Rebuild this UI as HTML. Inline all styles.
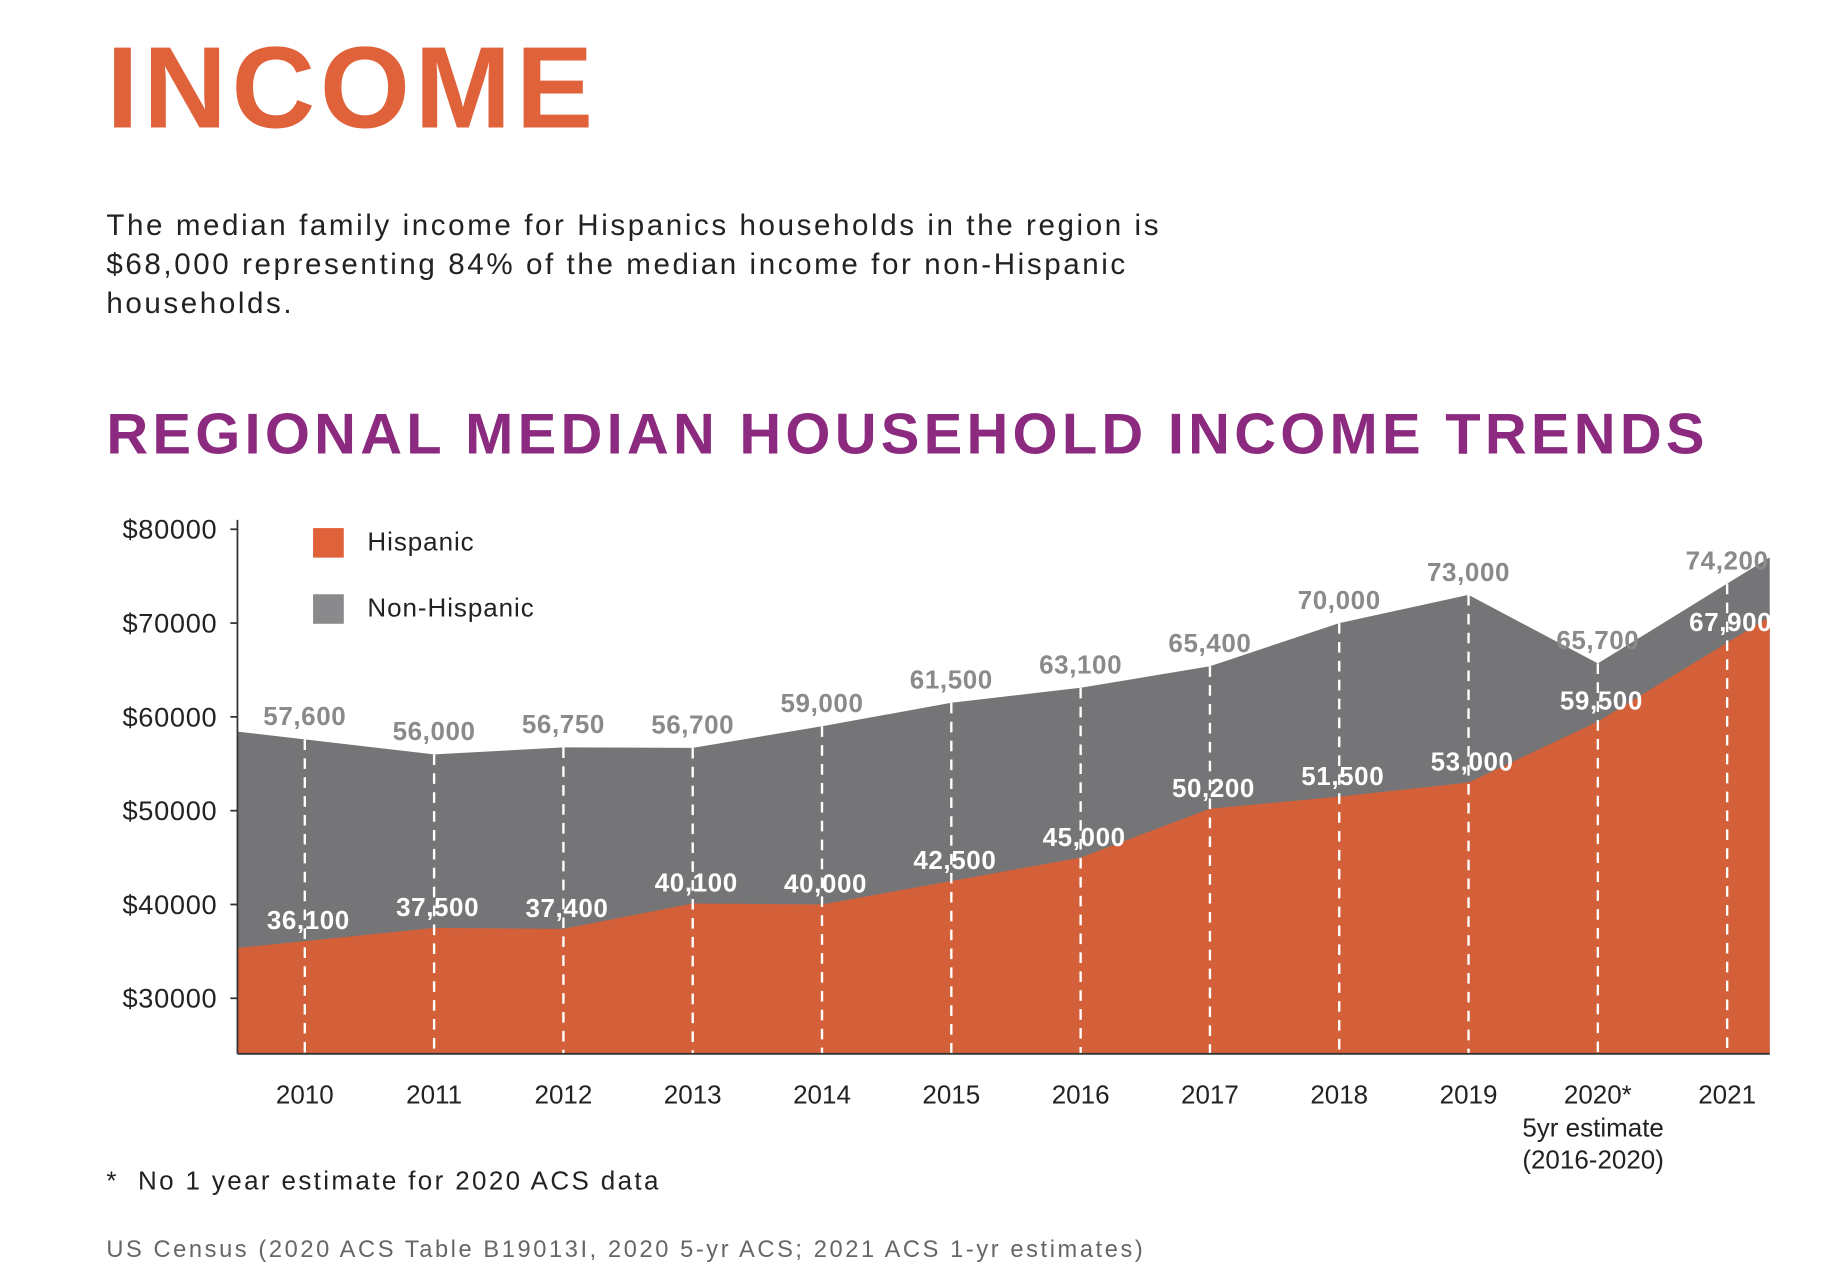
<!DOCTYPE html>
<html><head><meta charset="utf-8">
<style>
html,body{margin:0;padding:0;background:#fff;}
body{width:1843px;height:1286px;overflow:hidden;position:relative;font-family:"Liberation Sans",sans-serif;}
#wrap{position:absolute;left:0;top:0;width:1560px;height:1089px;transform:scale(1.1814);transform-origin:0 0;}
.abs{position:absolute;white-space:nowrap;}
</style></head>
<body>
<div id="wrap">
<div class="abs" style="left:90px;top:18px;font-size:98px;font-weight:bold;color:#e0623a;letter-spacing:4px;">INCOME</div>
<div class="abs" style="left:90px;top:175px;font-size:25px;line-height:33px;color:#222;letter-spacing:2.2px;">The median family income for Hispanics households in the region is<br>$68,000 representing 84% of the median income for non-Hispanic<br>households.</div>
<div class="abs" style="left:90px;top:340px;font-size:49px;font-weight:bold;color:#8b2a7e;letter-spacing:3.6px;">REGIONAL MEDIAN HOUSEHOLD INCOME TRENDS</div>
<svg id="chart" style="position:absolute;left:0;top:0" width="1560" height="1089"></svg>
<div class="abs" style="left:90px;top:987px;font-size:22px;color:#222;letter-spacing:2px;">*&nbsp; No 1 year estimate for 2020 ACS data</div>
<div class="abs" style="left:90px;top:1047px;font-size:20px;color:#666;letter-spacing:2.2px;">US Census (2020 ACS Table B19013I, 2020 5-yr ACS; 2021 ACS 1-yr estimates)</div>
</div>
<script>
const years=["2010","2011","2012","2013","2014","2015","2016","2017","2018","2019","2020*","2021"];
const nonHisp=[57600,56000,56750,56700,59000,61500,63100,65400,70000,73000,65700,74200];
const hisp=[36100,37500,37400,40100,40000,42500,45000,50200,51500,53000,59500,67900];
const nonHispLabels=["57,600","56,000","56,750","56,700","59,000","61,500","63,100","65,400","70,000","73,000","65,700","74,200"];
const hispLabels=["36,100","37,500","37,400","40,100","40,000","42,500","45,000","50,200","51,500","53,000","59,500","67,900"];
const yTicks=[30000,40000,50000,60000,70000,80000];
const NS="http://www.w3.org/2000/svg";
const svg=document.getElementById('chart');
const x0=201,x1=1498,yTop=440,yBot=892;
function xs(i){return 258+i*109.45;}
function ys(v){return 448+(80000-v)*0.00794;}
function mk(t,a){const e=document.createElementNS(NS,t);for(const k in a)e.setAttribute(k,a[k]);svg.appendChild(e);return e;}
function edge(arr){const n=arr.length;const s=arr[0]-(arr[1]-arr[0])*(xs(0)-x0)/109.45;const e=arr[n-1]+(arr[n-1]-arr[n-2])*(x1-xs(n-1))/109.45;return{s,e};}
function areaPath(arr){const ed=edge(arr);let d=`M${x0},${yBot} L${x0},${ys(ed.s)}`;arr.forEach((v,i)=>{d+=` L${xs(i)},${ys(v)}`;});d+=` L${x1},${ys(ed.e)} L${x1},${yBot} Z`;return d;}
let p=mk('path',{d:areaPath(nonHisp),fill:'#757577'});

p=mk('path',{d:areaPath(hisp),fill:'#d4603a'});

years.forEach((y,i)=>{
 const l=mk('line',{x1:xs(i),x2:xs(i),y1:ys(nonHisp[i]),y2:yBot,stroke:'#fff','stroke-width':2,'stroke-dasharray':'9 7'});
 
 const t=mk('text',{x:xs(i),y:934,'text-anchor':'middle','font-size':22,fill:'#222'});t.textContent=y;
 
 const a=mk('text',{x:xs(i),y:ys(nonHisp[i])-12,'text-anchor':'middle','font-size':22,'font-weight':'bold',fill:'#8a8a8c','letter-spacing':0.5});a.textContent=nonHispLabels[i];
 
 const b=mk('text',{x:xs(i)+3,y:ys(hisp[i])-10,'text-anchor':'middle','font-size':22,'font-weight':'bold',fill:'#fff','letter-spacing':0.5});b.textContent=hispLabels[i];
 
});
[["5yr estimate",962],["(2016-2020)",989]].forEach(s=>{const t=mk('text',{x:xs(10)-4,y:s[1],'text-anchor':'middle','font-size':22,fill:'#222'});t.textContent=s[0];
 });
let ax=mk('line',{x1:x0,x2:x0,y1:yTop,y2:yBot,stroke:'#333','stroke-width':1.5});

ax=mk('line',{x1:x0,x2:x1,y1:yBot,y2:yBot,stroke:'#333','stroke-width':1.5});

yTicks.forEach(v=>{const l=mk('line',{x1:x0-6,x2:x0,y1:ys(v),y2:ys(v),stroke:'#333','stroke-width':1.5});
 
 const t=mk('text',{x:184,y:ys(v)+8,'text-anchor':'end','font-size':23,fill:'#222','letter-spacing':0.6});t.textContent='$'+v;
 });
[["Hispanic","#e0623a",447],["Non-Hispanic","#8a8a8c",503]].forEach(g=>{
 const r=mk('rect',{x:265,y:g[2],width:26,height:25,fill:g[1]});
 const t=mk('text',{x:311,y:g[2]+19,'font-size':22,fill:'#222','letter-spacing':0.8});t.textContent=g[0];});
</script>
</body></html>
